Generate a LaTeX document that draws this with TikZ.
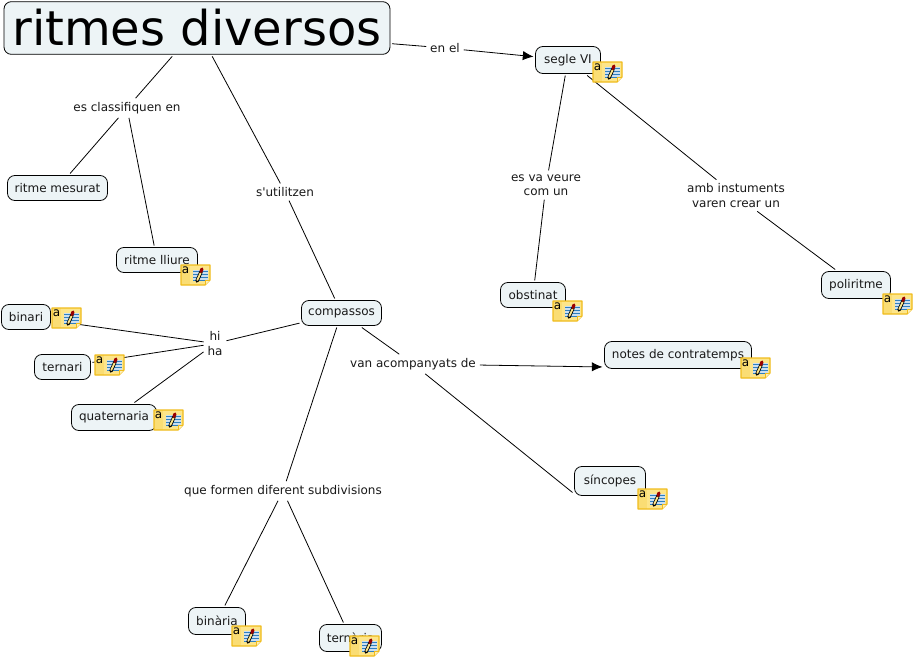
\documentclass[tikz,border=0pt]{standalone}
\usepackage{fontspec}
\setmainfont{DejaVu Sans}
\newfontfamily\plainfont{DejaVu Sans}
\usetikzlibrary{arrows.meta}
\definecolor{boxfill}{HTML}{EDF4F6}
\definecolor{noteY}{HTML}{FDE58A}
\definecolor{noteB}{HTML}{F0BC1C}
\definecolor{noteL}{HTML}{2F7FC0}
\tikzset{
  x=.75pt,y=-.75pt,
  concept/.style={draw=black,fill=boxfill,rounded corners=5.5pt,line width=.6pt,inner sep=0pt,outer sep=1.5pt,font=\fontsize{9pt}{10pt}\selectfont,text=black!90},
  linkphrase/.style={inner sep=0pt,outer xsep=3pt,outer ysep=3pt,align=center,font=\fontsize{9pt}{10.8pt}\selectfont,text=black!90},
  conn/.style={draw=black,line width=.6pt},
  arr/.style={conn,-{Latex[length=8pt,width=7pt]}},
  noteicon/.pic={
    \fill[noteY] (0,0) -- (29,0) -- (29,15) -- (24,20) -- (0,20) -- cycle;
    \fill[noteY!80!noteB] (0,0) rectangle (9,20);
    \fill[noteL!25!white] (12,5) rectangle (27,16);
    \foreach \yy in {6,9,12,15}{\draw[noteL,line width=.6pt] (12,\yy) -- (27,\yy);}
    \draw[line cap=round,black,line width=2.6pt] (16,16) -- (20,7);
    \draw[line cap=round,noteY,line width=1.4pt] (16.3,15) -- (19.6,8);
    \draw[line cap=round,red!60!black,line width=2.4pt] (20,6.5) -- (21,4);
    \draw[noteB,line width=1pt,line join=round] (0,0) -- (29,0) -- (29,15) -- (24,20) -- (0,20) -- cycle;
    \fill[noteY!60!white] (24,20) -- (24,15) -- (29,15) -- cycle;
    \draw[noteB,line width=.6pt] (24,20) -- (24,15) -- (29,15);
    \node[inner sep=0pt,font=\fontsize{9pt}{9pt}\selectfont] (glyph) at (4.5,5) {a};
  }
}
\newcommand{\cbox}[6]{\node[concept,minimum width=#4*.75pt,minimum height=#5*.75pt] (#1) at (#2,#3) {#6};}
\begin{document}
\begin{tikzpicture}
\useasboundingbox (0,0) rectangle (915,658);
\fill[white] (0,0) rectangle (915,658);
% concepts
\node[concept,minimum width=289.5pt,minimum height=39.5pt,font=\fontsize{36pt}{40pt}\selectfont,text=black] (title) at (197,28) {ritmes diversos};
\cbox{mesurat}{57.5}{188}{100}{25}{ritme mesurat}
\cbox{lliure}{157}{260}{81}{25}{ritme lliure}
\cbox{compassos}{341.5}{313}{80}{25}{compassos}
\cbox{segle}{568}{60}{65}{27}{segle VI}
\cbox{obstinat}{533}{295}{65}{25}{obstinat}
\cbox{poliritme}{856}{285}{69}{27}{poliritme}
\cbox{binari}{26}{317}{49}{25}{binari}
\cbox{ternari}{62.5}{367}{56}{25}{ternari}
\cbox{quaternaria}{114}{417.5}{85}{26}{quaternaria}
\cbox{notes}{678}{355}{147}{27}{notes de contratemps}
\cbox{sincopes}{610}{481}{71}{29}{síncopes}
\cbox{binaria}{217}{621}{57}{27}{binària}
\cbox{ternaria}{350.5}{638}{62}{27}{ternària}
% linking phrases
\node[linkphrase] (esclass) at (127,108) {es classifiquen en};
\node[linkphrase] (sutil) at (285,192) {{\plainfont s'utilitzen}};
\node[linkphrase] (enel) at (445,48) {en el};
\node[linkphrase] (esva) at (546,185) {es va veure\\com un};
\node[linkphrase] (amb) at (736,195.5) {amb instuments\\varen crear un};
\node[linkphrase] (hiha) at (215,343.5) {hi\\ha};
\node[linkphrase] (vanac) at (413,364) {van acompanyats de};
\node[linkphrase] (formen) at (283,491) {que formen diferent subdivisions};
% connectors
\draw[conn] (title) -- (esclass);
\draw[conn] (esclass) -- (mesurat);
\draw[conn] (esclass) -- (lliure);
\draw[conn] (title) -- (sutil);
\draw[conn] (sutil) -- (compassos);
\draw[conn] (title) -- (enel);
\draw[arr] (enel) -- (segle);
\draw[conn] (segle) -- (esva);
\draw[conn] (esva) -- (obstinat);
\draw[conn] (segle) -- (amb);
\draw[conn] (amb) -- (poliritme);
\draw[conn] (compassos) -- (hiha);
\draw[conn] (hiha) -- (binari);
\draw[conn] (hiha) -- (ternari);
\draw[conn] (hiha) -- (quaternaria);
\draw[conn] (compassos) -- (vanac);
\draw[arr] (vanac) -- (notes.189);
\draw[conn] (vanac) -- (sincopes.197);
\draw[conn] (compassos) -- (formen);
\draw[conn] (formen) -- (binaria);
\draw[conn] (formen) -- (ternaria);
% note icons
\pic (ic1) at (593,62) {noteicon};
\pic (ic2) at (181,265) {noteicon};
\pic (ic3) at (52,308) {noteicon};
\pic (ic4) at (95,355) {noteicon};
\pic (ic5) at (154,410) {noteicon};
\pic (ic6) at (553,301) {noteicon};
\pic (ic7) at (883,294) {noteicon};
\pic (ic8) at (741,358) {noteicon};
\pic (ic9) at (638,489) {noteicon};
\pic (ic10) at (232,626) {noteicon};
\pic (ic11) at (350,636) {noteicon};
\end{tikzpicture}
\end{document}
